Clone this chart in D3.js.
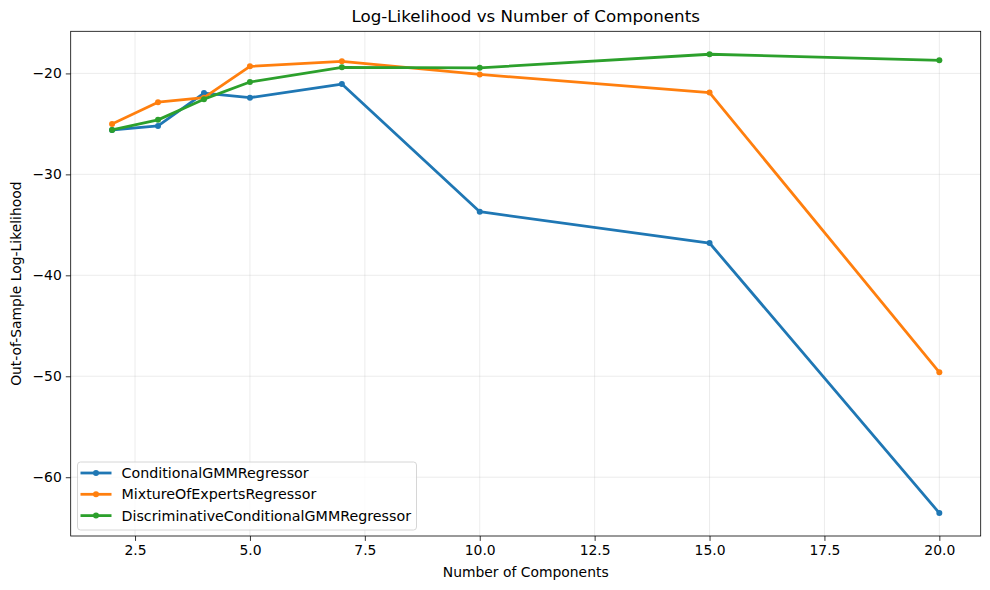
<!DOCTYPE html>
<html>
<head>
<meta charset="utf-8">
<script src="https://cdn.jsdelivr.net/npm/d3@7"></script>
<style>
  body { margin: 0; background: #fff; }
  svg text { font-family: "DejaVu Sans", sans-serif; fill: #000; }
</style>
</head>
<body>
<div id="canvas"></div>
<script>
const components = [2, 3, 4, 5, 7, 10, 15, 20];
const conditionalGMM = [-25.6, -25.2, -21.95, -22.4, -21.05, -33.7, -36.8, -63.55];
const mixtureOfExperts = [-25.0, -22.85, -22.4, -19.3, -18.8, -20.1, -21.9, -49.6];
const discriminativeGMM = [-25.6, -24.6, -22.55, -20.85, -19.4, -19.45, -18.1, -18.7];
const seriesNames = ["ConditionalGMMRegressor", "MixtureOfExpertsRegressor", "DiscriminativeConditionalGMMRegressor"];
const seriesColors = ["#1f77b4", "#ff7f0e", "#2ca02c"];
const xTicks = [2.5, 5, 7.5, 10, 12.5, 15, 17.5, 20];
const yTicks = [-60, -50, -40, -30, -20];

const series = [conditionalGMM, mixtureOfExperts, discriminativeGMM].map((vals, i) => ({
  name: seriesNames[i],
  color: seriesColors[i],
  points: vals.map((v, j) => ({ x: components[j], y: v }))
}));

const width = 990;
const height = 590;
const margin = { top: 31.3, left: 70.7, bottom: 54, right: 9.3 };

const svg = d3.select("#canvas").append("svg")
  .attr("width", width)
  .attr("height", height);

// matplotlib style 5% padding
const pad = ([a, b]) => [a - (b - a) * 0.05, b + (b - a) * 0.05];
const allY = series.flatMap(s => s.points.map(p => p.y));

const x = d3.scaleLinear()
  .domain(pad(d3.extent(components)))
  .range([margin.left, width - margin.right]);

const y = d3.scaleLinear()
  .domain(pad(d3.extent(allY)))
  .range([height - margin.bottom, margin.top]);

// grid
const grid = svg.append("g").attr("stroke", "#b0b0b0").attr("stroke-opacity", 0.3).attr("stroke-width", 0.8);
xTicks.forEach(t => grid.append("line")
  .attr("x1", x(t)).attr("x2", x(t))
  .attr("y1", y.range()[0]).attr("y2", y.range()[1]));
yTicks.forEach(t => grid.append("line")
  .attr("x1", x.range()[0]).attr("x2", x.range()[1])
  .attr("y1", y(t)).attr("y2", y(t)));

const fmtX = d3.format(".1f");
const fmtY = d => d3.format("d")(d).replace("-", "\u2212");

const xAxis = svg.append("g")
  .attr("transform", `translate(0,${height - margin.bottom})`)
  .call(d3.axisBottom(x).tickValues(xTicks).tickFormat(fmtX).tickSize(4.9).tickPadding(4));
const yAxis = svg.append("g")
  .attr("transform", `translate(${margin.left},0)`)
  .call(d3.axisLeft(y).tickValues(yTicks).tickFormat(fmtY).tickSize(4.9).tickPadding(4));

[xAxis, yAxis].forEach(ax => {
  ax.select(".domain").remove();
  ax.selectAll("line").attr("stroke", "#000").attr("stroke-width", 0.8);
  ax.selectAll("text").attr("font-size", 13.9).attr("font-family", "DejaVu Sans");
});

// lines
const line = d3.line().x(d => x(d.x)).y(d => y(d.y));
series.forEach(s => {
  svg.append("path")
    .datum(s.points)
    .attr("fill", "none")
    .attr("stroke", s.color)
    .attr("stroke-width", 2.78)
    .attr("stroke-linejoin", "round")
    .attr("stroke-linecap", "square")
    .attr("d", line);
  svg.append("g").selectAll("circle")
    .data(s.points)
    .enter()
    .append("circle")
    .attr("cx", d => x(d.x))
    .attr("cy", d => y(d.y))
    .attr("r", 3)
    .attr("fill", s.color);
});

// frame
svg.append("rect")
  .attr("x", x.range()[0]).attr("y", y.range()[1])
  .attr("width", x.range()[1] - x.range()[0])
  .attr("height", y.range()[0] - y.range()[1])
  .attr("fill", "none").attr("stroke", "#000").attr("stroke-width", 0.8);

// titles
svg.append("text")
  .attr("x", (x.range()[0] + x.range()[1]) / 2).attr("y", 22)
  .attr("text-anchor", "middle").attr("font-size", 16.7)
  .text("Log-Likelihood vs Number of Components");

svg.append("text")
  .attr("x", (x.range()[0] + x.range()[1]) / 2).attr("y", 577)
  .attr("text-anchor", "middle").attr("font-size", 13.9)
  .text("Number of Components");

svg.append("text")
  .attr("transform", `translate(21,${(y.range()[0] + y.range()[1]) / 2}) rotate(-90)`)
  .attr("text-anchor", "middle").attr("font-size", 13.9)
  .text("Out-of-Sample Log-Likelihood");

// legend
const lg = svg.append("g").attr("transform", "translate(77.5,462)");
lg.append("rect")
  .attr("width", 339).attr("height", 68)
  .attr("rx", 3)
  .attr("fill", "#fff").attr("fill-opacity", 0.8)
  .attr("stroke", "#cccccc").attr("stroke-width", 0.8);
series.forEach((s, i) => {
  const ly = 11 + i * 21.3;
  lg.append("line")
    .attr("x1", 3).attr("x2", 34).attr("y1", ly).attr("y2", ly)
    .attr("stroke", s.color).attr("stroke-width", 2.78);
  lg.append("circle").attr("cx", 18.5).attr("cy", ly).attr("r", 3).attr("fill", s.color);
  lg.append("text")
    .attr("x", 44).attr("y", ly).attr("dy", "0.36em")
    .attr("font-size", 14.25)
    .text(s.name);
});
</script>
</body>
</html>
